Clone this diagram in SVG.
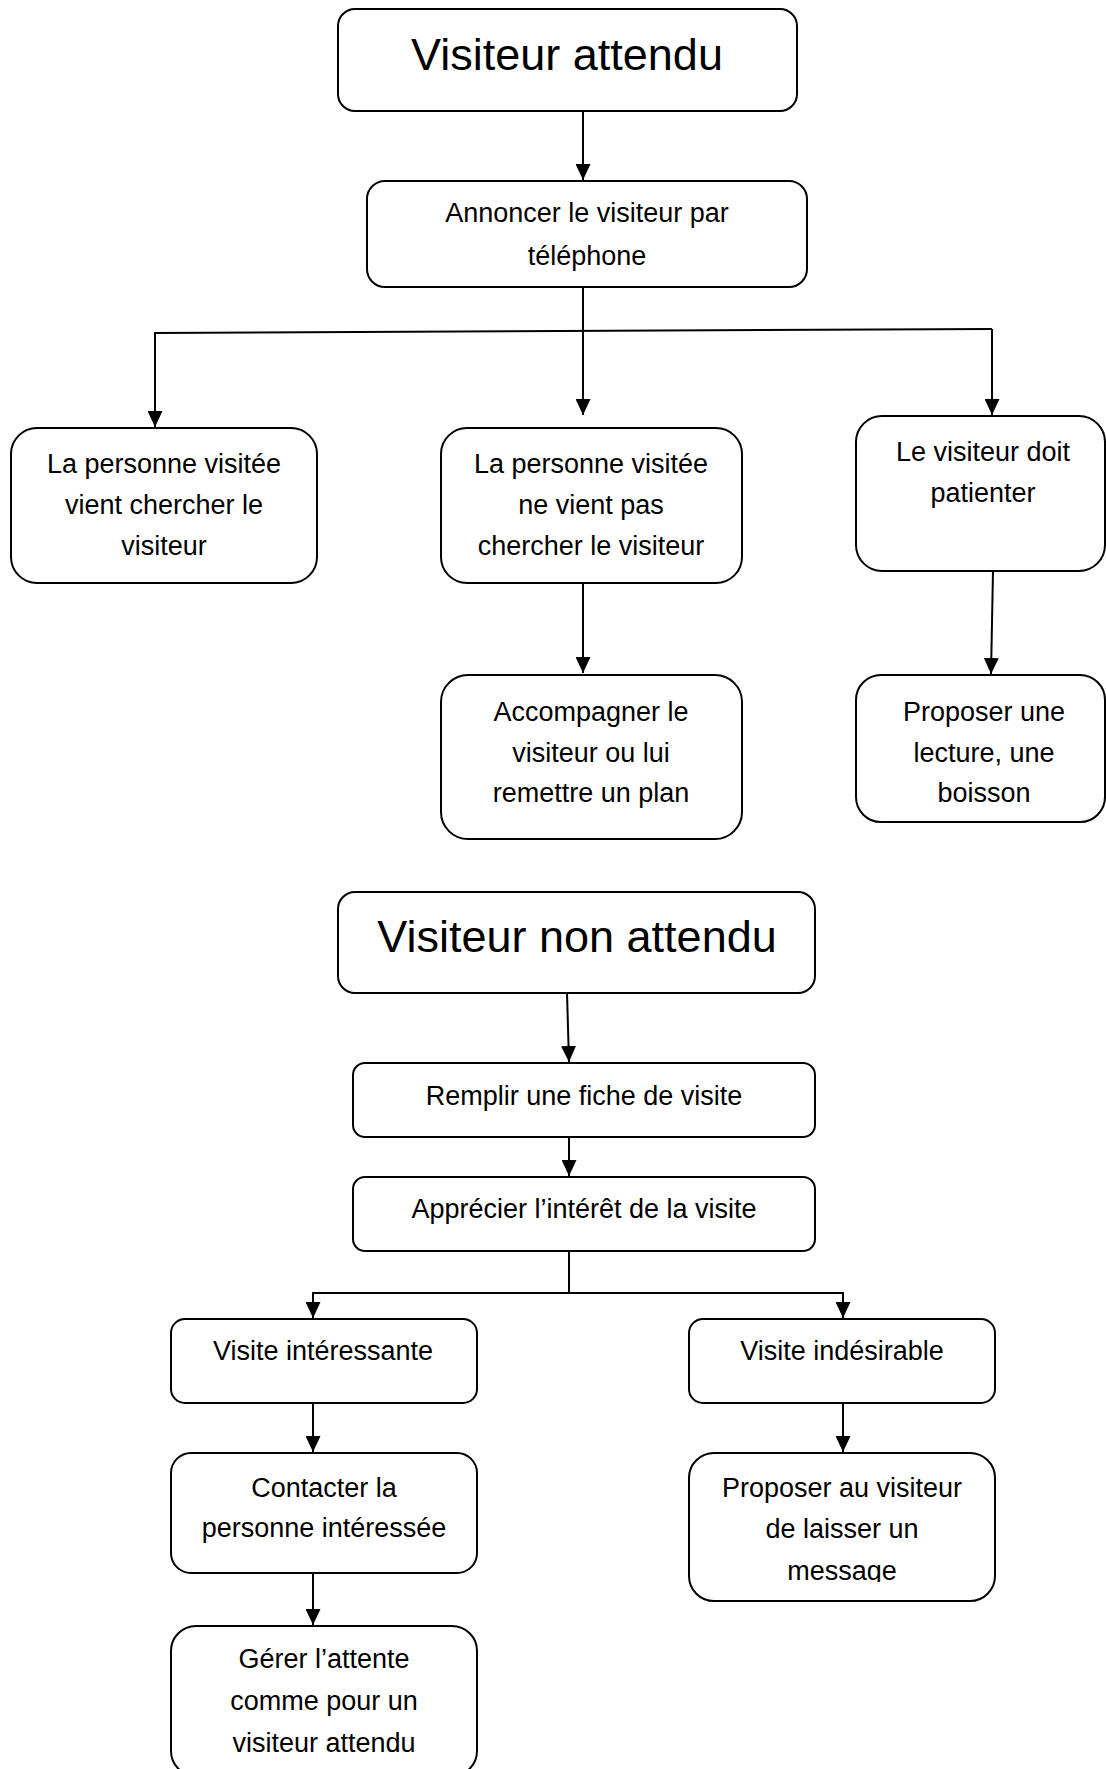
<svg xmlns="http://www.w3.org/2000/svg" width="1106" height="1769" viewBox="0 0 1106 1769">
<style>
.box{fill:#fff;stroke:#000;stroke-width:2}
.t{font-family:"Liberation Sans",Arial,sans-serif;font-size:27px;fill:#000;text-anchor:middle}
.title{font-family:"Liberation Sans",Arial,sans-serif;font-size:45px;fill:#000;text-anchor:middle}
.c{fill:none;stroke:#000;stroke-width:2}
</style>
<defs>
<marker id="arr" viewBox="0 0 16 15" refX="16" refY="7.5" markerWidth="16" markerHeight="15" markerUnits="userSpaceOnUse" orient="auto">
<path d="M0,0 L16,7.5 L0,15 z" fill="#000"/>
</marker>
<clipPath id="clipMsg"><rect x="689" y="1453" width="306" height="129"/></clipPath>
</defs>
<rect width="1106" height="1769" fill="#fff"/>
<g id="connectors">
<path class="c" d="M583,111 L583,180" marker-end="url(#arr)"/>
<path class="c" d="M583,287 L583,415" marker-end="url(#arr)"/>
<path class="c" d="M154,333 L992,329"/>
<path class="c" d="M155,333 L155,427" marker-end="url(#arr)"/>
<path class="c" d="M992,329 L992,415" marker-end="url(#arr)"/>
<path class="c" d="M583,583 L583,673" marker-end="url(#arr)"/>
<path class="c" d="M993,571 L991,674" marker-end="url(#arr)"/>
<path class="c" d="M567,993 L569,1062" marker-end="url(#arr)"/>
<path class="c" d="M569,1137 L569,1176" marker-end="url(#arr)"/>
<path class="c" d="M569,1251 L569,1293 M313,1293 L843,1293"/>
<path class="c" d="M313,1292 L313,1318" marker-end="url(#arr)"/>
<path class="c" d="M843,1292 L843,1318" marker-end="url(#arr)"/>
<path class="c" d="M313,1403 L313,1452" marker-end="url(#arr)"/>
<path class="c" d="M313,1573 L313,1625" marker-end="url(#arr)"/>
<path class="c" d="M843,1403 L843,1452" marker-end="url(#arr)"/>
</g>
<g id="n-visiteur-attendu">
<rect class="box" x="338" y="9" width="459" height="102" rx="17"/>
<text class="title" x="567" y="70">Visiteur attendu</text>
</g>
<g id="n-annoncer">
<rect class="box" x="367" y="181" width="440" height="106" rx="18"/>
<text class="t" x="587" y="222">Annoncer le visiteur par</text>
<text class="t" x="587" y="265">téléphone</text>
</g>
<g id="n-vient">
<rect class="box" x="11" y="428" width="306" height="155" rx="26"/>
<text class="t" x="164" y="473">La personne visitée</text>
<text class="t" x="164" y="514">vient chercher le</text>
<text class="t" x="164" y="555">visiteur</text>
</g>
<g id="n-vient-pas">
<rect class="box" x="441" y="428" width="301" height="155" rx="26"/>
<text class="t" x="591" y="473">La personne visitée</text>
<text class="t" x="591" y="514">ne vient pas</text>
<text class="t" x="591" y="555">chercher le visiteur</text>
</g>
<g id="n-patienter">
<rect class="box" x="856" y="416" width="249" height="155" rx="26"/>
<text class="t" x="983" y="461">Le visiteur doit</text>
<text class="t" x="983" y="502">patienter</text>
</g>
<g id="n-accompagner">
<rect class="box" x="441" y="675" width="301" height="164" rx="27"/>
<text class="t" x="591" y="721">Accompagner le</text>
<text class="t" x="591" y="762">visiteur ou lui</text>
<text class="t" x="591" y="802">remettre un plan</text>
</g>
<g id="n-lecture">
<rect class="box" x="856" y="675" width="249" height="147" rx="25"/>
<text class="t" x="984" y="721">Proposer une</text>
<text class="t" x="984" y="762">lecture, une</text>
<text class="t" x="984" y="802">boisson</text>
</g>
<g id="n-visiteur-non-attendu">
<rect class="box" x="338" y="892" width="477" height="101" rx="17"/>
<text class="title" x="577" y="952">Visiteur non attendu</text>
</g>
<g id="n-remplir">
<rect class="box" x="353" y="1063" width="462" height="74" rx="12"/>
<text class="t" x="584" y="1105">Remplir une fiche de visite</text>
</g>
<g id="n-apprecier">
<rect class="box" x="353" y="1177" width="462" height="74" rx="12"/>
<text class="t" x="584" y="1218">Apprécier l’intérêt de la visite</text>
</g>
<g id="n-interessante">
<rect class="box" x="171" y="1319" width="306" height="84" rx="14"/>
<text class="t" x="323" y="1360">Visite intéressante</text>
</g>
<g id="n-indesirable">
<rect class="box" x="689" y="1319" width="306" height="84" rx="14"/>
<text class="t" x="842" y="1360">Visite indésirable</text>
</g>
<g id="n-contacter">
<rect class="box" x="171" y="1453" width="306" height="120" rx="20"/>
<text class="t" x="324" y="1497">Contacter la</text>
<text class="t" x="324" y="1537">personne intéressée</text>
</g>
<g id="n-message">
<rect class="box" x="689" y="1453" width="306" height="148" rx="25"/>
<text class="t" x="842" y="1497">Proposer au visiteur</text>
<text class="t" x="842" y="1538">de laisser un</text>
<text class="t" x="842" y="1580" clip-path="url(#clipMsg)">message</text>
</g>
<g id="n-gerer">
<rect class="box" x="171" y="1626" width="306" height="150" rx="25"/>
<text class="t" x="324" y="1668">Gérer l’attente</text>
<text class="t" x="324" y="1710">comme pour un</text>
<text class="t" x="324" y="1752">visiteur attendu</text>
</g>
</svg>
